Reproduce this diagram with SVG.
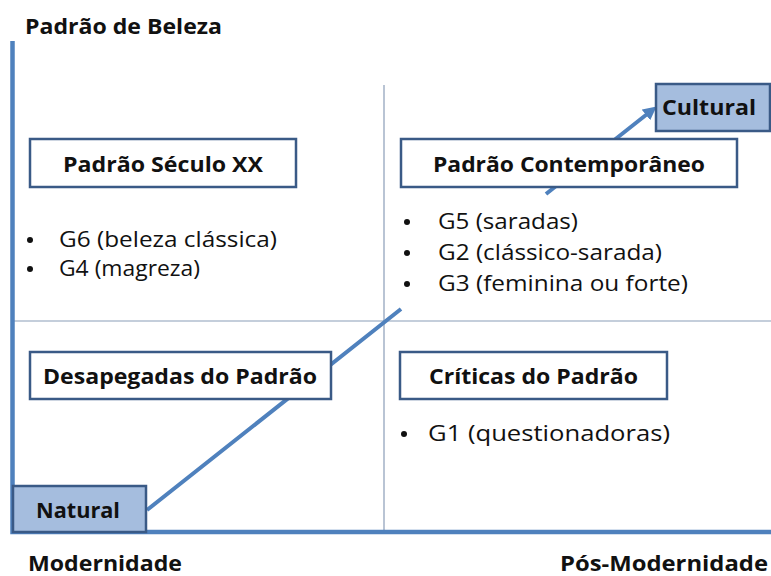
<svg xmlns="http://www.w3.org/2000/svg" width="771" height="576" viewBox="0 0 771 576">
  <style>
    .t { font-family: "Open Sans", "Liberation Sans", sans-serif; fill: #111; }
    .b { font-weight: bold; font-size: 22px; }
    .n { font-size: 21px; }
    .dot { fill: #111; }
    .box { fill: #ffffff; stroke: #3A5A86; stroke-width: 2.5; }
    .dark { fill: #A5BDDE; stroke: #3A5A86; stroke-width: 2.5; }
    .div { stroke: #8A9DB8; stroke-width: 1.2; fill: none; }
    .axis { stroke: #4F81BD; stroke-width: 4.5; fill: none; }
    .conn { stroke: #4F81BD; stroke-width: 4; fill: none; }
  </style>
  <defs>
    <marker id="arr" viewBox="0 0 10 10" refX="5" refY="5" markerWidth="3.4" markerHeight="3.4" markerUnits="strokeWidth" orient="auto">
      <path d="M0,0 L10,5 L0,10 z" fill="#4F81BD"/>
    </marker>
  </defs>
  <rect width="771" height="576" fill="#ffffff"/>

  <g id="grid">
    <line class="div" x1="384" y1="85" x2="384" y2="531"/>
    <line class="div" x1="13" y1="321" x2="771" y2="321"/>
  </g>
  <g id="axes">
    <polyline class="axis" points="12.5,41 12.5,532 771,532"/>
    <text class="t b" x="25" y="34" textLength="197" lengthAdjust="spacingAndGlyphs" style="font-size:21px">Padrão de Beleza</text>
    <text class="t b" x="28" y="571" textLength="154" lengthAdjust="spacingAndGlyphs" style="font-size:21px">Modernidade</text>
    <text class="t b" x="560" y="571" textLength="208" lengthAdjust="spacingAndGlyphs" style="font-size:21px">Pós-Modernidade</text>
  </g>

  <g id="connectors">
    <path class="conn" d="M147,510 L401,309 M546,194 L651.3,110.7" marker-end="url(#arr)"/>
  </g>

  <g id="node-cultural">
    <rect class="dark" x="656" y="84" width="114" height="47"/>
    <text class="t b" x="662" y="115" textLength="94" lengthAdjust="spacingAndGlyphs">Cultural</text>
  </g>
  <g id="node-seculo">
    <rect class="box" x="30" y="139" width="266" height="48"/>
    <text class="t b" x="63" y="172" textLength="200" lengthAdjust="spacingAndGlyphs">Padrão Século XX</text>
  </g>
  <g id="node-contemporaneo">
    <rect class="box" x="401" y="139" width="336" height="48"/>
    <text class="t b" x="433" y="172" textLength="272" lengthAdjust="spacingAndGlyphs">Padrão Contemporâneo</text>
  </g>
  <g id="list-seculo">
    <circle class="dot" cx="30" cy="240" r="3"/>
    <text class="t n" x="59" y="247" textLength="218" lengthAdjust="spacingAndGlyphs">G6 (beleza clássica)</text>
    <circle class="dot" cx="30" cy="269" r="3"/>
    <text class="t n" x="59" y="276" textLength="141" lengthAdjust="spacingAndGlyphs">G4 (magreza)</text>
  </g>
  <g id="list-contemporaneo">
    <circle class="dot" cx="407" cy="222" r="3"/>
    <text class="t n" x="438" y="229" textLength="140" lengthAdjust="spacingAndGlyphs">G5 (saradas)</text>
    <circle class="dot" cx="407" cy="253" r="3"/>
    <text class="t n" x="438" y="260" textLength="224" lengthAdjust="spacingAndGlyphs">G2 (clássico-sarada)</text>
    <circle class="dot" cx="407" cy="284" r="3"/>
    <text class="t n" x="438" y="291" textLength="250" lengthAdjust="spacingAndGlyphs">G3 (feminina ou forte)</text>
  </g>
  <g id="node-desapegadas">
    <rect class="box" x="30" y="352" width="301" height="47"/>
    <text class="t b" x="43" y="384" textLength="274" lengthAdjust="spacingAndGlyphs">Desapegadas do Padrão</text>
  </g>
  <g id="node-criticas">
    <rect class="box" x="400" y="352" width="267" height="47"/>
    <text class="t b" x="429" y="384" textLength="209" lengthAdjust="spacingAndGlyphs">Críticas do Padrão</text>
  </g>
  <g id="list-criticas">
    <circle class="dot" cx="404" cy="434" r="3"/>
    <text class="t n" x="428" y="441" textLength="242" lengthAdjust="spacingAndGlyphs">G1 (questionadoras)</text>
  </g>
  <g id="node-natural">
    <rect class="dark" x="13" y="486" width="133" height="46"/>
    <text class="t b" x="36" y="518" textLength="84" lengthAdjust="spacingAndGlyphs">Natural</text>
  </g>
</svg>
